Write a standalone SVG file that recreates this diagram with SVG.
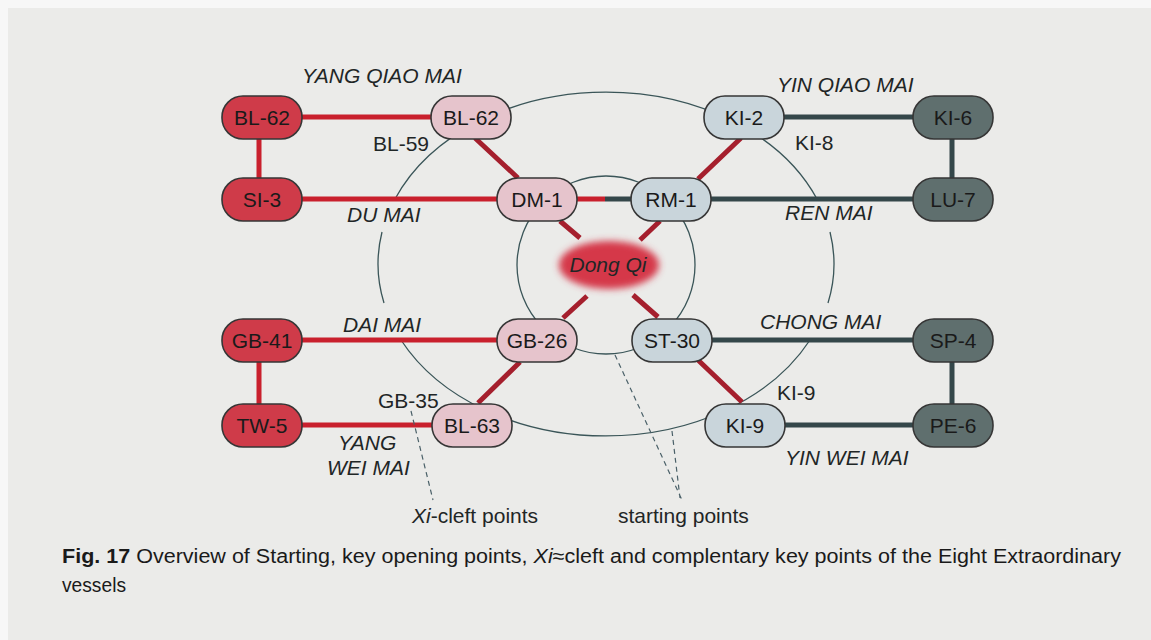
<svg xmlns="http://www.w3.org/2000/svg" width="1151" height="640" viewBox="0 0 1151 640">
<style>
.node rect{stroke:#363636;stroke-width:1.6}
.nr rect{fill:#cf3b49}
.np rect{fill:#e6c4cc}
.nb rect{fill:#c9d5db}
.ng rect{fill:#5f6f6e}
.node text{font-family:"Liberation Sans",Arial,sans-serif;font-size:21px;fill:#1a1a1a;text-anchor:middle}
.lbl{font-family:"Liberation Sans",Arial,sans-serif;font-size:21px;fill:#1f2626}
.it{font-style:italic}
.red{stroke:#c9202d;stroke-width:5;fill:none}
.dark{stroke:#34474a;stroke-width:5;fill:none}
.diag{stroke:#a51f2d;stroke-width:5;fill:none}
.thin{stroke:#3a5558;stroke-width:1.3;fill:none}
.dash{stroke:#4a6068;stroke-width:1.2;fill:none;stroke-dasharray:5 4}
.cap{font-family:"Liberation Sans",Arial,sans-serif;font-size:20px;fill:#1a1a1a}
</style>
<defs>
<filter id="blur" x="-50%" y="-50%" width="200%" height="200%"><feGaussianBlur stdDeviation="3.5"/></filter>
</defs>
<rect x="0" y="0" width="1151" height="640" fill="#f7f7f7"/>
<rect x="8" y="8" width="1143" height="632" fill="#ebebe9"/>

<g id="circles">
<circle cx="606" cy="265" r="89" class="thin"/>
<path class="thin" d="M395,199 A228,172 0 0 1 817,199"/>
<path class="thin" d="M382,232 A228,172 0 0 0 384,303"/>
<path class="thin" d="M830,232 A228,172 0 0 1 828,303"/>
<path class="thin" d="M401,340 A228,172 0 0 0 810,340"/>
</g>

<g id="connectors">
<path class="red" d="M262,117 H471 M259,117 V199 M262,199 H537 M537,199 H605 M262,340 H537 M259,340 V425 M262,425 H471"/>
<path class="dark" d="M605,199 H953 M744,117 H953 M952,117 V199 M672,340 H953 M952,340 V425 M745,425 H953"/>
<path class="diag" d="M475,138 L518,178 M741,138 L698,179 M520,362 L478,403 M698,360 L742,402 M560,221 L580,238 M660,221 L640,240 M587,296 L563,318 M633,295 L658,317"/>
<path class="dash" d="M411,411 L433,500 M615,355 L682,500 M672,431 L680,498"/>
</g>

<g id="dongqi">
<ellipse cx="609" cy="265" rx="50" ry="24" fill="#d5384a" filter="url(#blur)"/>
<text x="608" y="272" class="lbl it" text-anchor="middle">Dong Qi</text>
</g>

<g id="n-bl62-outer" class="node nr"><rect x="222" y="96" width="80" height="43" rx="21"/><text x="262" y="125">BL-62</text></g>
<g id="n-si3" class="node nr"><rect x="222" y="178" width="80" height="43" rx="21"/><text x="262" y="207">SI-3</text></g>
<g id="n-gb41" class="node nr"><rect x="222" y="319" width="80" height="43" rx="21"/><text x="262" y="348">GB-41</text></g>
<g id="n-tw5" class="node nr"><rect x="222" y="404" width="80" height="43" rx="21"/><text x="262" y="433">TW-5</text></g>

<g id="n-bl62-inner" class="node np"><rect x="431" y="96" width="80" height="43" rx="21"/><text x="471" y="125">BL-62</text></g>
<g id="n-dm1" class="node np"><rect x="497" y="178" width="80" height="43" rx="21"/><text x="537" y="207">DM-1</text></g>
<g id="n-gb26" class="node np"><rect x="497" y="319" width="80" height="43" rx="21"/><text x="537" y="348">GB-26</text></g>
<g id="n-bl63" class="node np"><rect x="432" y="404" width="80" height="43" rx="21"/><text x="472" y="433">BL-63</text></g>

<g id="n-ki2" class="node nb"><rect x="704" y="96" width="80" height="43" rx="21"/><text x="744" y="125">KI-2</text></g>
<g id="n-rm1" class="node nb"><rect x="631" y="178" width="80" height="43" rx="21"/><text x="671" y="207">RM-1</text></g>
<g id="n-st30" class="node nb"><rect x="632" y="319" width="80" height="43" rx="21"/><text x="672" y="348">ST-30</text></g>
<g id="n-ki9" class="node nb"><rect x="705" y="404" width="80" height="43" rx="21"/><text x="745" y="433">KI-9</text></g>

<g id="n-ki6" class="node ng"><rect x="913" y="96" width="80" height="43" rx="21"/><text x="953" y="125">KI-6</text></g>
<g id="n-lu7" class="node ng"><rect x="913" y="178" width="80" height="43" rx="21"/><text x="953" y="207">LU-7</text></g>
<g id="n-sp4" class="node ng"><rect x="913" y="319" width="80" height="43" rx="21"/><text x="953" y="348">SP-4</text></g>
<g id="n-pe6" class="node ng"><rect x="913" y="404" width="80" height="43" rx="21"/><text x="953" y="433">PE-6</text></g>

<g id="labels">
<text class="lbl it" x="302" y="83">YANG QIAO MAI</text>
<text class="lbl" x="373" y="151">BL-59</text>
<text class="lbl it" x="347" y="222">DU MAI</text>
<text class="lbl it" x="777" y="92">YIN QIAO MAI</text>
<text class="lbl" x="795" y="150">KI-8</text>
<text class="lbl it" x="785" y="220">REN MAI</text>
<text class="lbl it" x="343" y="332">DAI MAI</text>
<text class="lbl" x="378" y="408">GB-35</text>
<text class="lbl it" x="338" y="450">YANG</text>
<text class="lbl it" x="327" y="475">WEI MAI</text>
<text class="lbl" x="412" y="523"><tspan class="it">Xi</tspan>-cleft points</text>
<text class="lbl it" x="760" y="329">CHONG MAI</text>
<text class="lbl" x="777" y="400">KI-9</text>
<text class="lbl it" x="785" y="465">YIN WEI MAI</text>
<text class="lbl" x="618" y="523">starting points</text>
</g>

<g id="caption">
<text class="cap" x="62" y="563" textLength="1059" lengthAdjust="spacingAndGlyphs"><tspan font-weight="bold">Fig. 17</tspan> Overview of Starting, key opening points, <tspan font-style="italic">Xi</tspan>≈cleft and complentary key points of the Eight Extraordinary</text>
<text class="cap" x="62" y="592" textLength="64" lengthAdjust="spacingAndGlyphs">vessels</text>
</g>
</svg>
